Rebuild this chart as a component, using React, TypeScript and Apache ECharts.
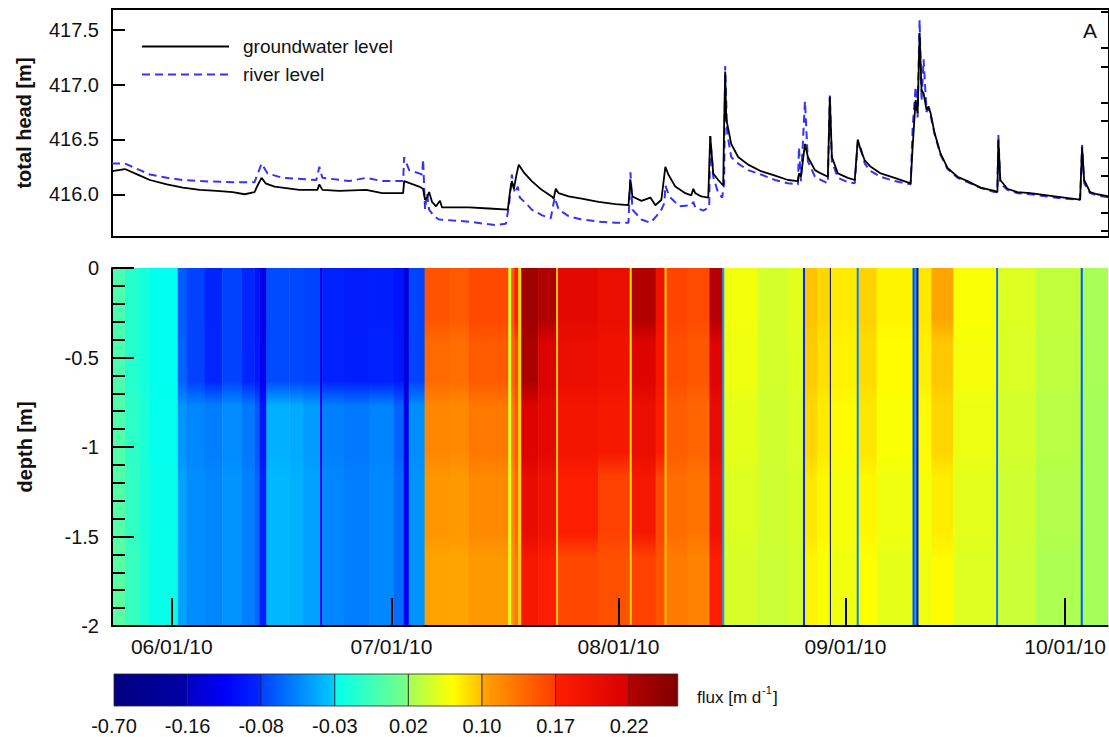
import React, { useEffect, useRef } from "react";
import * as echarts from "echarts";

// ---- time axis: days since 2010-06-01 00:00 ----
const axisMinDay = -8.16;
const axisMaxDay = 127.8;
const dateTickDays = [0, 30, 61, 92, 122];
const dateTickLabels = ["06/01/10", "07/01/10", "08/01/10", "09/01/10", "10/01/10"];

// ---- panel A: total head [m] ----
const headMin = 415.61;
const headMax = 417.69;
const headMajorTicks = [416.0, 416.5, 417.0, 417.5];
const headMinorTicks = [415.667, 415.833, 416.167, 416.333, 416.667, 416.833, 417.167, 417.333, 417.667];

const gwDays = [
  -8.16, -6.39, -4.35, -2.99, -0.68, 1.5, 3.81, 6.12, 8.29, 9.93, 11.28, 11.69, 12.24, 12.78, 14.0, 17.4, 19.85, 20.12,
  20.53, 22.84, 26.51, 28.69, 31.0, 31.54, 31.68, 33.72, 34.26, 34.53, 34.81, 35.08, 35.49, 36.03, 36.57, 36.85, 40.52,
  43.24, 45.82, 46.09, 46.36, 46.64, 47.04, 47.31, 47.99, 49.08, 50.44, 51.8, 52.07, 52.35, 52.75, 54.11, 55.88, 58.19,
  60.5, 62.27, 62.54, 62.81, 64.04, 65.26, 65.94, 66.76, 67.3, 67.71, 68.66, 70.02, 70.84, 71.11, 71.38, 72.2, 73.15,
  73.42, 73.83, 74.51, 75.19, 75.32, 75.46, 75.6, 76.28, 77.23, 78.59, 80.35, 82.26, 84.02, 85.38, 85.52, 85.79, 86.34,
  86.74, 87.7, 88.51, 89.46, 89.73, 90.01, 90.82, 92.18, 93.13, 93.54, 93.95, 94.49, 95.31, 96.67, 98.57, 100.75, 101.02,
  101.43, 101.7, 101.97, 102.24, 102.52, 102.92, 103.2, 103.47, 104.01, 104.83, 105.78, 107.14, 108.5, 110.27, 112.17,
  112.58, 112.71, 112.98, 113.94, 115.3, 117.06, 119.37, 121.69, 123.86, 124.13, 124.41, 125.22, 126.17, 127.8,
];
const gwLevel = [
  416.21, 416.23, 416.17, 416.13, 416.09, 416.06, 416.04, 416.03, 416.02, 416.0, 416.02, 416.08, 416.15, 416.1, 416.07,
  416.04, 416.04, 416.09, 416.04, 416.03, 416.04, 416.01, 416.01, 416.01, 416.12, 416.07, 416.05, 415.95, 415.97, 416.02,
  415.93, 415.89, 415.94, 415.88, 415.88, 415.87, 415.86, 416.01, 416.12, 416.05, 416.19, 416.27, 416.2, 416.12, 416.04,
  415.98, 415.96, 416.05, 416.01, 415.98, 415.96, 415.93, 415.91, 415.9, 416.13, 415.98, 415.94, 415.97, 415.9, 415.95,
  416.25, 416.18, 416.07, 416.01, 415.99, 416.05, 416.01, 415.98, 415.97, 416.53, 416.19, 416.13, 416.08, 416.65, 417.12,
  416.69, 416.46, 416.34, 416.27, 416.21, 416.17, 416.13, 416.12, 416.19, 416.16, 416.46, 416.34, 416.22, 416.19, 416.16,
  416.89, 416.34, 416.19, 416.15, 416.13, 416.5, 416.4, 416.31, 416.25, 416.19, 416.15, 416.1, 416.43, 416.86, 416.74,
  417.47, 416.95, 416.92, 416.77, 416.8, 416.74, 416.56, 416.37, 416.24, 416.16, 416.12, 416.06, 416.03, 416.02, 416.5,
  416.13, 416.05, 416.02, 416.01, 415.99, 415.97, 415.95, 416.43, 416.13, 416.02, 416.0, 415.98,
];

const rvDays = [
  -8.16, -6.39, -4.35, -2.99, -0.68, 1.5, 3.81, 8.29, 11.28, 12.24, 13.05, 15.09, 19.71, 20.12, 20.53, 24.2, 26.51,
  28.69, 31.0, 31.54, 31.68, 32.36, 33.72, 34.13, 34.26, 34.53, 34.81, 35.08, 35.76, 36.44, 40.52, 42.69, 44.05, 45.55,
  45.96, 46.23, 46.36, 46.77, 47.18, 47.45, 48.4, 49.08, 50.44, 51.67, 52.21, 52.75, 54.11, 55.88, 58.19, 60.5, 62.27,
  62.54, 62.81, 64.04, 65.26, 66.08, 66.76, 67.17, 67.3, 67.85, 69.2, 70.84, 71.11, 71.38, 72.47, 73.28, 73.42, 73.83,
  74.51, 75.05, 75.32, 75.46, 75.73, 76.28, 77.23, 78.59, 80.35, 82.26, 84.02, 85.38, 85.52, 85.79, 86.34, 86.74, 87.7,
  88.51, 89.46, 89.73, 90.01, 90.82, 92.18, 93.13, 93.54, 93.95, 94.49, 95.31, 96.67, 98.57, 100.75, 101.02, 101.43,
  101.7, 101.97, 102.24, 102.52, 102.92, 103.2, 103.47, 104.01, 104.83, 105.78, 107.14, 108.5, 110.27, 112.17, 112.58,
  112.71, 112.98, 113.94, 115.3, 117.06, 119.37, 121.69, 123.86, 124.13, 124.41, 125.22, 126.17, 127.8,
];
const rvLevel = [
  416.28, 416.28, 416.22, 416.18, 416.15, 416.13, 416.12, 416.11, 416.11, 416.28, 416.19, 416.15, 416.13, 416.25, 416.15,
  416.12, 416.15, 416.12, 416.12, 416.12, 416.34, 416.22, 416.19, 416.18, 416.32, 415.86, 416.01, 415.86, 415.8, 415.77,
  415.75, 415.73, 415.72, 415.73, 415.89, 416.07, 416.18, 416.01, 416.07, 415.97, 415.91, 415.86, 415.81, 415.78, 415.97,
  415.86, 415.8, 415.77, 415.75, 415.74, 415.74, 416.2, 415.86, 415.77, 415.74, 415.8, 415.86, 415.92, 416.08, 415.98,
  415.89, 415.9, 415.93, 415.88, 415.85, 415.88, 416.53, 416.16, 416.01, 415.97, 416.1, 417.17, 416.56, 416.34, 416.28,
  416.22, 416.18, 416.13, 416.1, 416.09, 416.43, 416.12, 416.85, 416.3, 416.16, 416.13, 416.1, 416.9, 416.3, 416.15,
  416.11, 416.1, 416.48, 416.42, 416.28, 416.21, 416.16, 416.12, 416.09, 416.6, 416.98, 416.7, 417.59, 416.85, 417.23,
  416.75, 416.78, 416.72, 416.55, 416.36, 416.23, 416.15, 416.11, 416.06, 416.02, 416.02, 416.54, 416.1, 416.04, 416.01,
  416.0, 415.98, 415.96, 415.95, 416.45, 416.1, 416.01, 415.99, 415.97,
];

// ---- panel B: flux [m/d] by time column and depth band ----
const depthTop = [0, -0.35, -0.7, -1.1, -1.55];
const depthBottom = [-0.35, -0.7, -1.1, -1.55, -2.0];
const colStart = [
  -8.16, -6.39, -4.35, -2.99, 0.82, 2.04, 4.5, 6.9, 9.5, 11.28, 11.96, 12.92, 16.04, 18.0, 20.25, 20.53, 23.5, 27.0,
  30.32, 31.68, 32.36, 34.53, 38.0, 40.52, 45.96, 46.36, 46.77, 47.31, 47.72, 50.03, 52.48, 52.75, 58.19, 62.54, 62.81,
  66.08, 67.3, 67.57, 70.43, 73.42, 75.19, 75.46, 79.95, 84.02, 86.2, 86.47, 88.1, 89.87, 90.01, 93.54, 93.81, 96.26,
  101.16, 101.43, 101.7, 101.97, 103.74, 106.73, 112.58, 112.85, 118.01, 124.13, 124.41,
];
const fluxBand1 = [
  0.0, -0.015, -0.022, -0.03, -0.07, -0.08, -0.084, -0.079, -0.083, -0.1, -0.13, -0.076, -0.077, -0.079, -0.14, -0.088,
  -0.092, -0.09, -0.1, -0.145, -0.079, 0.155, 0.15, 0.162, 0.04, 0.15, 0.17, 0.088, 0.232, 0.222, 0.095, 0.205, 0.197,
  0.08, 0.222, 0.19, 0.088, 0.165, 0.16, 0.22, -0.045, 0.062, 0.045, 0.052, -0.09, 0.097, 0.088, -0.6, 0.078, -0.057,
  0.09, 0.073, -0.075, -0.04, -0.4, 0.08, 0.1, 0.066, -0.062, 0.05, 0.036, -0.07, 0.022,
];
const fluxBand2 = [
  0.0, -0.015, -0.022, -0.03, -0.068, -0.08, -0.083, -0.079, -0.082, -0.098, -0.125, -0.076, -0.077, -0.079, -0.14,
  -0.087, -0.09, -0.088, -0.097, -0.145, -0.079, 0.14, 0.137, 0.15, 0.04, 0.14, 0.16, 0.088, 0.225, 0.216, 0.095, 0.197,
  0.19, 0.08, 0.214, 0.183, 0.088, 0.158, 0.152, 0.212, -0.045, 0.06, 0.045, 0.05, -0.09, 0.093, 0.084, -0.6, 0.074,
  -0.057, 0.085, 0.07, -0.075, -0.04, -0.4, 0.076, 0.095, 0.063, -0.062, 0.048, 0.034, -0.07, 0.022,
];
const fluxBand3 = [
  0.002, -0.012, -0.02, -0.029, -0.05, -0.055, -0.058, -0.053, -0.06, -0.07, -0.1, -0.04, -0.042, -0.047, -0.12, -0.057,
  -0.06, -0.056, -0.068, -0.13, -0.052, 0.12, 0.118, 0.13, 0.045, 0.125, 0.15, 0.09, 0.215, 0.205, 0.095, 0.185, 0.18,
  0.085, 0.197, 0.173, 0.09, 0.148, 0.143, 0.2, -0.045, 0.055, 0.043, 0.048, -0.09, 0.088, 0.078, -0.6, 0.07, -0.057,
  0.08, 0.066, -0.075, -0.04, -0.4, 0.07, 0.088, 0.058, -0.062, 0.045, 0.031, -0.07, 0.021,
];
const fluxBand4 = [
  0.004, -0.01, -0.02, -0.028, -0.045, -0.052, -0.055, -0.05, -0.057, -0.066, -0.09, -0.037, -0.04, -0.045, -0.11,
  -0.055, -0.058, -0.054, -0.064, -0.12, -0.05, 0.11, 0.108, 0.118, 0.05, 0.115, 0.14, 0.09, 0.2, 0.19, 0.095, 0.172,
  0.167, 0.085, 0.182, 0.163, 0.092, 0.138, 0.133, 0.188, -0.045, 0.05, 0.042, 0.046, -0.088, 0.08, 0.072, -0.6, 0.064,
  -0.057, 0.072, 0.06, -0.075, -0.04, -0.4, 0.064, 0.077, 0.054, -0.062, 0.042, 0.028, -0.07, 0.02,
];
const fluxBand5 = [
  0.006, -0.008, -0.018, -0.027, -0.045, -0.052, -0.055, -0.05, -0.057, -0.066, -0.09, -0.037, -0.04, -0.045, -0.11,
  -0.055, -0.058, -0.054, -0.064, -0.12, -0.05, 0.102, 0.1, 0.108, 0.05, 0.11, 0.13, 0.092, 0.18, 0.172, 0.095, 0.163,
  0.157, 0.09, 0.167, 0.155, 0.095, 0.128, 0.123, 0.172, -0.045, 0.047, 0.04, 0.045, -0.088, 0.073, 0.066, -0.6, 0.06,
  -0.057, 0.068, 0.055, -0.075, -0.04, -0.4, 0.06, 0.07, 0.05, -0.062, 0.04, 0.025, -0.07, 0.02,
];
const fluxBands = [fluxBand1, fluxBand2, fluxBand3, fluxBand4, fluxBand5];

// ---- colour scale (non-linear class breaks) ----
const fluxBreaks = [-0.7, -0.16, -0.08, -0.03, 0.02, 0.1, 0.17, 0.22];
const fluxMax = 0.25;
const segStops: [number, string][][] = [
  [[0, "#00007F"], [1, "#0000A8"]],
  [[0, "#0000C4"], [0.5, "#0000F8"], [1, "#0028FF"]],
  [[0, "#0040FF"], [1, "#00CCFF"]],
  [[0, "#00FFF0"], [1, "#7CFF82"]],
  [[0, "#A4FF5A"], [0.6, "#FFFF00"], [1, "#FFBE00"]],
  [[0, "#FFA500"], [1, "#FF3C00"]],
  [[0, "#FF1E00"], [1, "#D80000"]],
  [[0, "#B40000"], [1, "#800000"]],
];

const FONT = '"Liberation Sans", Arial, Helvetica, sans-serif';

function hexRgb(h: string): number[] {
  const n = parseInt(h.slice(1), 16);
  return [(n >> 16) & 255, (n >> 8) & 255, n & 255];
}
function mix(c1: string, c2: string, t: number): string {
  const a = hexRgb(c1), b = hexRgb(c2);
  const r = a.map((v, i) => Math.round(v + (b[i] - v) * t));
  return `rgb(${r[0]},${r[1]},${r[2]})`;
}
function fluxColor(v: number): string {
  let i = 0;
  for (let k = 0; k < fluxBreaks.length; k++) if (v >= fluxBreaks[k]) i = k;
  const lo = fluxBreaks[i];
  const hi = i + 1 < fluxBreaks.length ? fluxBreaks[i + 1] : fluxMax;
  const t = Math.max(0, Math.min(1, (v - lo) / (hi - lo)));
  const stops = segStops[i];
  for (let s = 0; s < stops.length - 1; s++) {
    if (t <= stops[s + 1][0]) {
      const tt = (t - stops[s][0]) / (stops[s + 1][0] - stops[s][0]);
      return mix(stops[s][1], stops[s + 1][1], tt);
    }
  }
  return stops[stops.length - 1][1];
}

export default function App() {
  const ref = useRef<HTMLDivElement>(null);
  useEffect(() => {
    if (!ref.current) return;
    const chart = echarts.init(ref.current, undefined, { renderer: "svg" });

    // one item per time column: [start, end, flux band 1..5]
    const columns: number[][] = colStart.map((s, i) => {
      const e = i + 1 < colStart.length ? colStart[i + 1] : axisMaxDay;
      return [s, e, ...fluxBands.map((b) => b[i])];
    });
    const depthSpan = -depthBottom[depthBottom.length - 1];
    const blend = 0.07;

    // colour bar graphics
    const cbLeft = 114, cbTop = 674, cbH = 32, segW = 73.6;
    const graphics: any[] = [];
    fluxBreaks.forEach((b, i) => {
      const w = i === fluxBreaks.length - 1 ? segW * 0.66 : segW;
      const x = cbLeft + i * segW;
      graphics.push({
        type: "rect",
        shape: { x, y: cbTop, width: w, height: cbH },
        style: {
          fill: new echarts.graphic.LinearGradient(0, 0, 1, 0, segStops[i].map(([o, c]) => ({ offset: o, color: c }))),
          stroke: "rgba(40,40,40,0.8)",
          lineWidth: 1,
        },
      });
      graphics.push({
        type: "text",
        x,
        y: 726,
        style: { text: b.toFixed(2), font: `20px ${FONT}`, fill: "#111", textAlign: "center", textVerticalAlign: "middle" },
      });
    });
    graphics.push(
      { type: "text", x: 697, y: 697, style: { text: "flux [m d", font: `17px ${FONT}`, fill: "#111", textVerticalAlign: "middle" } },
      { type: "text", x: 762, y: 690, style: { text: "-1", font: `11px ${FONT}`, fill: "#111", textVerticalAlign: "middle" } },
      { type: "text", x: 773, y: 697, style: { text: "]", font: `17px ${FONT}`, fill: "#111", textVerticalAlign: "middle" } },
      { type: "text", x: 1090, y: 30, style: { text: "A", font: `21px ${FONT}`, fill: "#111", textAlign: "center", textVerticalAlign: "middle" } },
      { type: "text", x: 1092, y: 286, style: { text: "B", font: `21px ${FONT}`, fill: "#111", textAlign: "center", textVerticalAlign: "middle" } }
    );

    const labelStyle = { fontSize: 20, color: "#111", fontFamily: FONT };
    const blk = { color: "#000", width: 2 };

    chart.setOption({
      animation: false,
      backgroundColor: "#fff",
      textStyle: { fontFamily: FONT },
      grid: [
        { left: 112, top: 9, width: 1000, height: 228, show: true, borderColor: "#000", borderWidth: 2, backgroundColor: "transparent" },
        { left: 112, top: 268, width: 1000, height: 358 },
      ],
      legend: {
        data: ["groundwater level", "river level"],
        orient: "vertical",
        left: 141,
        top: 37,
        padding: 0,
        itemWidth: 87,
        itemHeight: 14,
        itemGap: 9,
        itemStyle: { opacity: 0 },
        textStyle: { fontSize: 19, color: "#111", fontFamily: FONT, padding: [0, 0, 0, 9] },
      },
      xAxis: [
        {
          type: "value", gridIndex: 0, min: axisMinDay, max: axisMaxDay,
          axisLine: { show: false }, axisTick: { show: false }, axisLabel: { show: false }, splitLine: { show: false },
        },
        {
          type: "value", gridIndex: 1, min: axisMinDay, max: axisMaxDay, z: 10,
          axisLine: { show: true, onZero: false, lineStyle: blk },
          axisTick: { show: true, inside: true, length: 28, customValues: dateTickDays, lineStyle: blk },
          axisLabel: {
            ...labelStyle,
            fontSize: 21,
            margin: 10,
            customValues: dateTickDays,
            formatter: (v: number) => dateTickLabels[dateTickDays.indexOf(v)] ?? "",
          },
          splitLine: { show: false },
        },
      ],
      yAxis: [
        {
          type: "value", gridIndex: 0, min: headMin, max: headMax, z: 10,
          name: "total head [m]", nameLocation: "middle", nameGap: 78, nameRotate: 90,
          nameTextStyle: { fontSize: 20, fontWeight: "bold", color: "#111", fontFamily: FONT },
          axisLine: { show: false, onZero: false },
          axisTick: { show: true, inside: true, length: 13, customValues: headMajorTicks, lineStyle: blk },
          axisLabel: { ...labelStyle, margin: 13, customValues: headMajorTicks, formatter: (v: number) => v.toFixed(1) },
          splitLine: { show: false },
        },
        {
          type: "value", gridIndex: 0, min: headMin, max: headMax, z: 10,
          axisLine: { show: false, onZero: false },
          axisTick: { show: true, inside: true, length: 8, customValues: headMinorTicks, lineStyle: blk },
          axisLabel: { show: false },
          splitLine: { show: false },
        },
        {
          type: "value", gridIndex: 1, min: -2, max: 0, interval: 0.5, z: 10,
          name: "depth [m]", nameLocation: "middle", nameGap: 77, nameRotate: 90,
          nameTextStyle: { fontSize: 20, fontWeight: "bold", color: "#111", fontFamily: FONT },
          axisLine: { show: true, onZero: false, lineStyle: blk },
          axisTick: { show: true, inside: true, length: 22, lineStyle: blk },
          minorTick: { show: true, splitNumber: 5, length: 13, lineStyle: blk },
          axisLabel: { ...labelStyle, margin: 13 },
          splitLine: { show: false },
          minorSplitLine: { show: false },
        },
      ],
      series: [
        {
          type: "custom",
          name: "flux",
          xAxisIndex: 1,
          yAxisIndex: 2,
          data: columns,
          encode: { x: [0, 1] },
          renderItem: (params: any, api: any) => {
            const a = api.coord([api.value(0), depthTop[0]]);
            const b = api.coord([api.value(1), depthBottom[depthBottom.length - 1]]);
            const stops: { offset: number; color: string }[] = [];
            for (let j = 0; j < depthTop.length; j++) {
              const c = fluxColor(api.value(2 + j) as number);
              const t0 = j === 0 ? 0 : (-depthTop[j] + blend) / depthSpan;
              const t1 = j === depthTop.length - 1 ? 1 : (-depthBottom[j] - blend) / depthSpan;
              stops.push({ offset: t0, color: c }, { offset: t1, color: c });
            }
            return {
              type: "rect",
              shape: { x: a[0], y: a[1], width: b[0] - a[0] + 0.5, height: b[1] - a[1] },
              style: { fill: new echarts.graphic.LinearGradient(0, 0, 0, 1, stops) },
            };
          },
          z: 1,
        },
        {
          type: "line",
          name: "river level",
          xAxisIndex: 0,
          yAxisIndex: 0,
          data: rvDays.map((d, i) => [d, rvLevel[i]]),
          symbol: "none",
          showSymbol: false,
          lineStyle: { color: "#3434F2", width: 2, type: [8, 5] },
          itemStyle: { color: "#3434F2" },
          z: 2,
        },
        {
          type: "line",
          name: "groundwater level",
          xAxisIndex: 0,
          yAxisIndex: 0,
          data: gwDays.map((d, i) => [d, gwLevel[i]]),
          symbol: "none",
          showSymbol: false,
          lineStyle: { color: "#000", width: 1.8 },
          itemStyle: { color: "#000" },
          z: 3,
        },
      ],
      graphic: graphics,
    });
    return () => chart.dispose();
  }, []);
  return <div ref={ref} style={{ position: "absolute", left: 0, top: 0, width: 1109, height: 737 }} />;
}
